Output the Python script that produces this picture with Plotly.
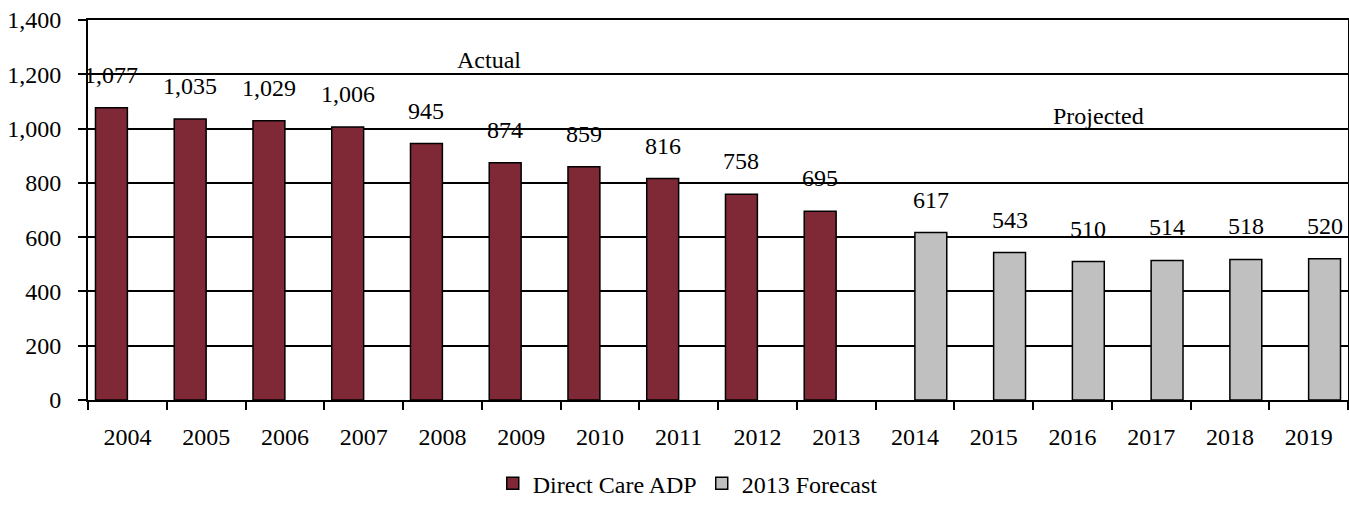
import plotly.graph_objects as go

years = ["2004", "2005", "2006", "2007", "2008", "2009", "2010", "2011",
         "2012", "2013", "2014", "2015", "2016", "2017", "2018", "2019"]
actual_adp = [1077, 1035, 1029, 1006, 945, 874, 859, 816, 758, 695,
              None, None, None, None, None, None]
forecast_adp = [None, None, None, None, None, None, None, None, None, None,
                617, 543, 510, 514, 518, 520]

FONT = "Liberation Serif"
RED = "#802936"
GRAY = "#C0C0C0"

fig = go.Figure()
fig.add_trace(go.Bar(x=years, y=actual_adp, name="Direct Care ADP",
                     marker=dict(color=RED, line=dict(color="black", width=1.5))))
fig.add_trace(go.Bar(x=years, y=forecast_adp, name="2013 Forecast",
                     marker=dict(color=GRAY, line=dict(color="black", width=1.5))))

# data labels above each bar; category index used since year names look numeric
annotations = []
for series, shift in [(actual_adp, -16), (forecast_adp, 16)]:
    for i, val in enumerate(series):
        if val is None:
            continue
        annotations.append(dict(x=i, y=val, text=f"{val:,}", showarrow=False,
                                xshift=shift, yshift=18, yanchor="bottom",
                                font=dict(family=FONT, size=24, color="black")))

annotations.append(dict(x=0.291, y=0.933, xref="paper", yref="paper", text="Actual",
                        showarrow=False, font=dict(family=FONT, size=24, color="black")))
annotations.append(dict(x=0.840, y=0.786, xref="paper", yref="paper", text="Projected",
                        showarrow=False, font=dict(family=FONT, size=24, color="black")))

fig.update_layout(
    width=1349, height=507,
    margin=dict(l=88, r=1, t=20, b=107, autoexpand=False),
    paper_bgcolor="white", plot_bgcolor="white",
    barmode="group", bargap=0.19, bargroupgap=0,
    font=dict(family=FONT, size=24, color="black"),
    annotations=annotations,
    showlegend=True,
    legend=dict(orientation="h", x=0.476, xanchor="center", y=-0.22, yanchor="middle",
                font=dict(family=FONT, size=24), itemwidth=30, traceorder="normal"),
)
fig.update_xaxes(type="category", range=[-0.5, len(years) - 0.5], tickson="boundaries",
                 ticks="outside", ticklen=8, tickwidth=2, tickcolor="black", tickangle=0,
                 showline=True, linecolor="black", linewidth=2, mirror=True,
                 showgrid=False, ticklabelstandoff=14, automargin=False)
fig.update_yaxes(range=[0, 1400], dtick=200, tickformat=",", ticks="outside", ticklen=8,
                 tickwidth=2, tickcolor="black", showline=True, linecolor="black",
                 linewidth=2, mirror=True, showgrid=True, gridcolor="black",
                 gridwidth=1.5, zeroline=False, ticklabelstandoff=12, automargin=False,
                 ticklabeloverflow="allow")

# drop the default page margin so the figure fills the window exactly
fig.write_html("out.html", config={"displayModeBar": False},
               post_script="document.body.style.margin='0';document.body.style.overflow='hidden';")
